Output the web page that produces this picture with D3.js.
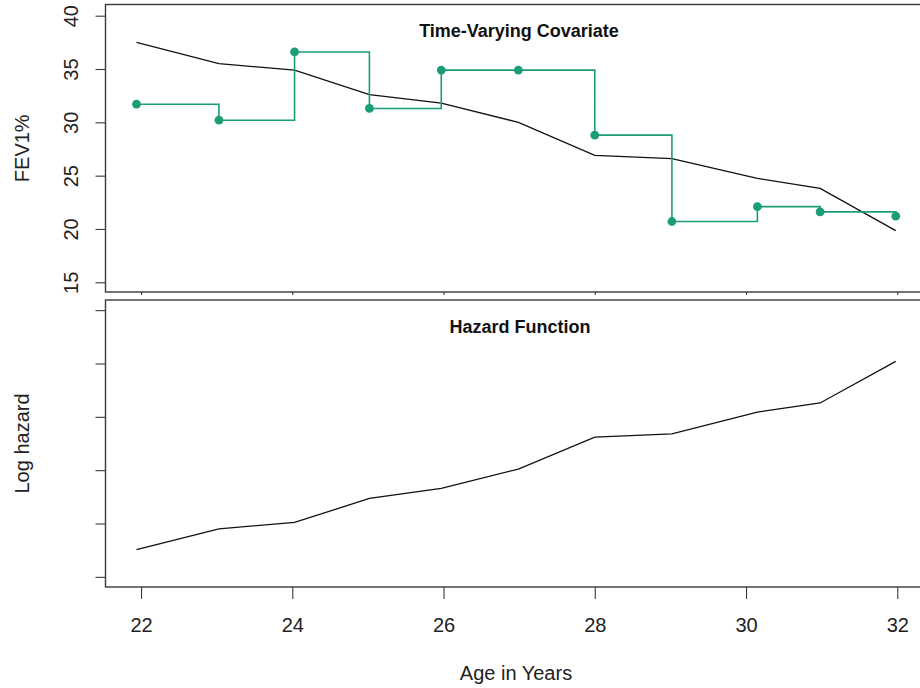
<!DOCTYPE html>
<html>
<head>
<meta charset="utf-8">
<script src="https://cdn.jsdelivr.net/npm/d3@7"></script>
<style>
  html, body { margin: 0; padding: 0; background: #ffffff; }
  svg { display: block; font-family: "Liberation Sans", Arial, sans-serif; }
</style>
</head>
<body>
<svg id="chart" width="920" height="688"></svg>
<script>
// Visit ages (years)
const ages = [21.94, 23.03, 24.03, 25.02, 25.97, 26.99, 28.0, 29.02, 30.15, 30.98, 31.98];
// Observed FEV1% at each visit (held until the next visit)
const fevObserved = [31.7, 30.2, 36.6, 31.3, 34.9, 34.9, 28.8, 20.7, 22.1, 21.6, 21.2];
// Smoothed FEV1% trajectory
const fevTrend = [37.5, 35.5, 34.9, 32.6, 31.8, 30.0, 26.9, 26.6, 24.75, 23.8, 19.85];
// Log hazard at each visit
const logHazard = [-5.49, -5.10, -4.98, -4.53, -4.34, -3.98, -3.38, -3.32, -2.91, -2.74, -1.96];

const ageTicks = [22, 24, 26, 28, 30, 32];
const fevTicks = [15, 20, 25, 30, 35, 40];
const hazardTicks = [-6, -5, -4, -3, -2, -1];

const green = "#1b9e77";
const frame = "#3a3a3a";

const svg = d3.select("#chart");

// Shared horizontal scale; the plot region runs past the right edge of the canvas
const x = d3.scaleLinear().domain([21.53, 32.38]).range([105.5, 926]);

const topPanel = { top: 4.5, bottom: 292 };
const botPanel = { top: 300, bottom: 587 };

const yFev = d3.scaleLinear().domain([14.09, 41.05]).range([topPanel.bottom, topPanel.top]);
const yHaz = d3.scaleLinear().domain([-6.19, -0.81]).range([botPanel.bottom, botPanel.top]);

function styleAxis(g) {
  g.select(".domain").remove();
  g.selectAll(".tick line").attr("stroke", frame).attr("stroke-width", 1.1);
  g.selectAll(".tick text").attr("fill", "#222").attr("font-size", 20);
}

// ---------- Top panel: time-varying covariate ----------
const gTop = svg.append("g");

gTop.append("g")
  .attr("transform", `translate(105.5,0)`)
  .call(d3.axisLeft(yFev).tickValues(fevTicks).tickSize(10).tickFormat(d3.format("d")))
  .call(styleAxis)
  .call(g => g.selectAll(".tick text")
    .attr("transform", "rotate(-90)")
    .attr("x", 0).attr("y", -28).attr("dy", 0)
    .attr("text-anchor", "middle"));

gTop.append("g")
  .attr("transform", `translate(0,${topPanel.bottom})`)
  .call(d3.axisBottom(x).tickValues(ageTicks).tickSize(3).tickFormat(""))
  .call(styleAxis);

gTop.append("path")
  .datum(ages.map((a, i) => [a, fevTrend[i]]))
  .attr("fill", "none")
  .attr("stroke", "#111")
  .attr("stroke-width", 1.3)
  .attr("d", d3.line().x(d => x(d[0])).y(d => yFev(d[1])));

gTop.append("path")
  .datum(ages.map((a, i) => [a, fevObserved[i]]))
  .attr("fill", "none")
  .attr("stroke", green)
  .attr("stroke-width", 1.6)
  .attr("d", d3.line().curve(d3.curveStepAfter).x(d => x(d[0])).y(d => yFev(d[1])));

gTop.selectAll("circle")
  .data(ages.map((a, i) => [a, fevObserved[i]]))
  .join("circle")
  .attr("cx", d => x(d[0]))
  .attr("cy", d => yFev(d[1]))
  .attr("r", 4.4)
  .attr("fill", green);

gTop.append("rect")
  .attr("x", 105.5).attr("y", topPanel.top)
  .attr("width", 926 - 105.5).attr("height", topPanel.bottom - topPanel.top)
  .attr("fill", "none").attr("stroke", frame).attr("stroke-width", 1.4);

gTop.append("text")
  .attr("x", 519).attr("y", 36.7)
  .attr("text-anchor", "middle")
  .attr("font-size", 18).attr("font-weight", "bold").attr("fill", "#111")
  .text("Time-Varying Covariate");

svg.append("text")
  .attr("transform", `translate(28.5,${(topPanel.top + topPanel.bottom) / 2}) rotate(-90)`)
  .attr("text-anchor", "middle")
  .attr("font-size", 20).attr("fill", "#222")
  .text("FEV1%");

// ---------- Bottom panel: hazard function ----------
const gBot = svg.append("g");

gBot.append("g")
  .attr("transform", `translate(105.5,0)`)
  .call(d3.axisLeft(yHaz).tickValues(hazardTicks).tickSize(10).tickFormat(""))
  .call(styleAxis);

gBot.append("g")
  .attr("transform", `translate(0,${botPanel.bottom})`)
  .call(d3.axisBottom(x).tickValues(ageTicks).tickSize(12).tickFormat(d3.format("d")))
  .call(styleAxis)
  .call(g => g.selectAll(".tick text").attr("y", 45).attr("dy", 0));

gBot.append("path")
  .datum(ages.map((a, i) => [a, logHazard[i]]))
  .attr("fill", "none")
  .attr("stroke", "#111")
  .attr("stroke-width", 1.3)
  .attr("d", d3.line().x(d => x(d[0])).y(d => yHaz(d[1])));

gBot.append("rect")
  .attr("x", 105.5).attr("y", botPanel.top)
  .attr("width", 926 - 105.5).attr("height", botPanel.bottom - botPanel.top)
  .attr("fill", "none").attr("stroke", frame).attr("stroke-width", 1.4);

gBot.append("text")
  .attr("x", 520).attr("y", 332.7)
  .attr("text-anchor", "middle")
  .attr("font-size", 18).attr("font-weight", "bold").attr("fill", "#111")
  .text("Hazard Function");

svg.append("text")
  .attr("transform", `translate(29,${(botPanel.top + botPanel.bottom) / 2}) rotate(-90)`)
  .attr("text-anchor", "middle")
  .attr("font-size", 20).attr("fill", "#222")
  .text("Log hazard");

svg.append("text")
  .attr("x", 516).attr("y", 680)
  .attr("text-anchor", "middle")
  .attr("font-size", 20).attr("fill", "#222")
  .text("Age in Years");
</script>
</body>
</html>
